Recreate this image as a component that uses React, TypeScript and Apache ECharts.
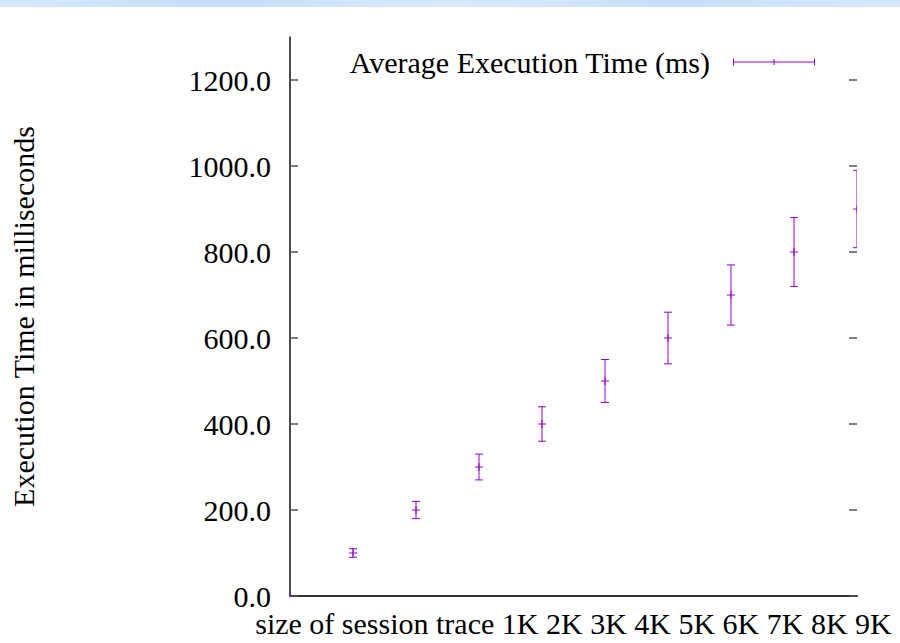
import React, { useEffect, useRef } from "react";
import * as echarts from "echarts";

const SERIES_NAME = "Average Execution Time (ms)";
const X_TITLE_PREFIX = "size of session trace";
const SIZE_LABELS = ["1K", "2K", "3K", "4K", "5K", "6K", "7K", "8K", "9K"];
const X_POSITIONS = [0, 1, 2, 3, 4, 5, 6, 7, 8, 9];
const AVG_MS = [0, 100, 200, 300, 400, 500, 600, 700, 800, 900];
const ERR_MS = [0, 10, 20, 30, 40, 50, 60, 70, 80, 90];
const Y_TICKS = [0, 200, 400, 600, 800, 1000, 1200];
const Y_TITLE = "Execution Time in milliseconds";

const COLOR = "#9400d3";
const FONT = "Liberation Serif";

export default function App() {
  const ref = useRef<HTMLDivElement>(null);

  useEffect(() => {
    if (!ref.current) return;
    const chart = echarts.init(ref.current, null, { renderer: "svg" });

    const data = X_POSITIONS.map((x, i) => [
      x,
      AVG_MS[i],
      AVG_MS[i] - ERR_MS[i],
      AVG_MS[i] + ERR_MS[i],
    ]);

    const xTitle = [X_TITLE_PREFIX, ...SIZE_LABELS].join(" ");

    const option: any = {
      animation: false,
      backgroundColor: "#ffffff",
      textStyle: { fontFamily: FONT },
      graphic: [
        {
          type: "rect",
          left: 0,
          top: 0,
          shape: { width: 900, height: 7 },
          style: {
            fill: new echarts.graphic.LinearGradient(0, 0, 1, 0, [
              { offset: 0, color: "#d6e8fc" },
              { offset: 0.25, color: "#c6defa" },
              { offset: 0.5, color: "#dbeafc" },
              { offset: 0.75, color: "#c8dffa" },
              { offset: 1, color: "#d8e8fc" },
            ]),
          },
          silent: true,
        },
      ],
      legend: {
        show: true,
        right: 80,
        top: 42,
        align: "right",
        itemWidth: 82,
        itemHeight: 8,
        data: [
          {
            name: SERIES_NAME,
            icon: "path://M0,3.5h82v1H0z M0,0.5h1v7H0z M81,0.5h1v7h-1z M40.5,1h1v6h-1z",
            itemStyle: { color: COLOR },
          },
        ],
        textStyle: {
          fontFamily: FONT,
          fontSize: 30,
          color: "#000",
          padding: [0, 18, 0, 0],
        },
      },
      grid: {
        left: 290,
        right: 43,
        top: 37,
        bottom: 46,
      },
      xAxis: {
        type: "value",
        min: 0,
        max: 9,
        interval: 1,
        name: xTitle,
        nameLocation: "middle",
        nameGap: 12,
        nameTextStyle: { fontFamily: FONT, fontSize: 30, color: "#000" },
        axisLine: { show: true, lineStyle: { color: "#333", width: 2 } },
        axisTick: { show: false },
        axisLabel: { show: false },
        splitLine: { show: false },
      },
      yAxis: [
        {
          type: "value",
          min: 0,
          max: 1300,
          interval: 200,
          position: "left",
          name: Y_TITLE,
          nameLocation: "middle",
          nameGap: 252,
          nameRotate: 90,
          nameTextStyle: { fontFamily: FONT, fontSize: 30, color: "#000" },
          axisLine: { show: true, lineStyle: { color: "#111", width: 1.5 } },
          axisTick: {
            show: true,
            inside: true,
            length: 8,
            customValues: Y_TICKS,
            lineStyle: { color: "#555", width: 1.5 },
          },
          axisLabel: {
            show: true,
            customValues: Y_TICKS,
            formatter: (v: number) => v.toFixed(1),
            fontFamily: FONT,
            fontSize: 30,
            color: "#000",
            margin: 19,
          },
          splitLine: { show: false },
        },
        {
          type: "value",
          min: 0,
          max: 1300,
          interval: 200,
          position: "right",
          axisLine: { show: false },
          axisTick: {
            show: true,
            inside: true,
            length: 8,
            customValues: Y_TICKS,
            lineStyle: { color: "#555", width: 1.5 },
          },
          axisLabel: { show: false },
          splitLine: { show: false },
        },
      ],
      series: [
        {
          name: SERIES_NAME,
          type: "custom",
          xAxisIndex: 0,
          yAxisIndex: 0,
          clip: true,
          itemStyle: { color: COLOR },
          data,
          encode: { x: 0, y: [1, 2, 3] },
          renderItem: (params: any, api: any) => {
            const x = api.value(0);
            const y = api.value(1);
            const lo = api.value(2);
            const hi = api.value(3);
            const c = api.coord([x, y]);
            const t = api.coord([x, hi]);
            const b = api.coord([x, lo]);
            const hw = 4;
            const style = { stroke: COLOR, lineWidth: 1, fill: "none" };
            return {
              type: "group",
              children: [
                { type: "line", shape: { x1: c[0], y1: t[1], x2: c[0], y2: b[1] }, style },
                { type: "line", shape: { x1: c[0] - hw, y1: t[1], x2: c[0] + hw, y2: t[1] }, style },
                { type: "line", shape: { x1: c[0] - hw, y1: b[1], x2: c[0] + hw, y2: b[1] }, style },
                { type: "line", shape: { x1: c[0] - hw, y1: c[1], x2: c[0] + hw, y2: c[1] }, style },
                { type: "line", shape: { x1: c[0], y1: c[1] - hw, x2: c[0], y2: c[1] + hw }, style },
              ],
            };
          },
        },
      ],
    };

    chart.setOption(option);
    return () => chart.dispose();
  }, []);

  return (
    <div
      ref={ref}
      style={{ position: "fixed", left: 0, top: 0, width: 900, height: 643 }}
    />
  );
}
